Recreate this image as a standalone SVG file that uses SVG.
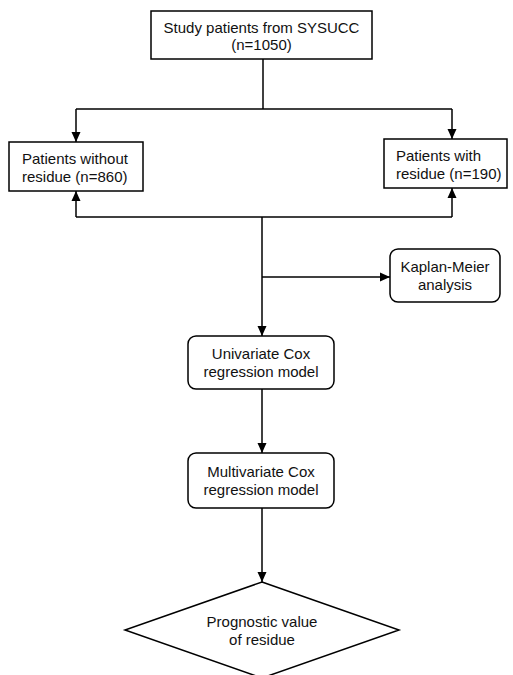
<svg xmlns="http://www.w3.org/2000/svg" width="513" height="675" viewBox="0 0 513 675">
<style>
.box{fill:#fff;stroke:#000;stroke-width:1.5}
.ln{fill:none;stroke:#000;stroke-width:1.5}
text{font-family:"Liberation Sans",Arial,sans-serif;font-size:15px;fill:#111}
.c{text-anchor:middle}
</style>
<defs>
<marker id="ah" markerUnits="userSpaceOnUse" markerWidth="10" markerHeight="10" viewBox="0 0 10 10" refX="10" refY="5" orient="auto">
<path d="M0,0.5 L10,5 L0,9.5 Z" fill="#000"/>
</marker>
</defs>
<rect width="513" height="675" fill="#fff"/>
<g id="connectors">
<path class="ln" d="M263,59 V109"/>
<path class="ln" d="M76,109 H452"/>
<path class="ln" d="M76,109 V142" marker-end="url(#ah)"/>
<path class="ln" d="M452,109 V139" marker-end="url(#ah)"/>
<path class="ln" d="M76,217 H452"/>
<path class="ln" d="M76,217 V191" marker-end="url(#ah)"/>
<path class="ln" d="M452,217 V188" marker-end="url(#ah)"/>
<path class="ln" d="M262,217 V336" marker-end="url(#ah)"/>
<path class="ln" d="M262,277 H390" marker-end="url(#ah)"/>
<path class="ln" d="M262,389 V453" marker-end="url(#ah)"/>
<path class="ln" d="M262,508 V582" marker-end="url(#ah)"/>
</g>
<g id="study">
<rect class="box" x="151" y="11" width="221" height="48"/>
<text class="c" x="261.5" y="33">Study patients from SYSUCC</text>
<text class="c" x="261.5" y="50">(n=1050)</text>
</g>
<g id="without">
<rect class="box" x="9" y="142" width="134" height="49"/>
<text x="22" y="164">Patients without</text>
<text x="22" y="182">residue (n=860)</text>
</g>
<g id="with">
<rect class="box" x="384" y="139" width="123" height="49"/>
<text x="396" y="161">Patients with</text>
<text x="396" y="179">residue (n=190)</text>
</g>
<g id="km">
<rect class="box" x="390" y="249" width="110" height="53" rx="8"/>
<text class="c" x="445" y="272">Kaplan-Meier</text>
<text class="c" x="445" y="290">analysis</text>
</g>
<g id="univariate">
<rect class="box" x="188" y="336" width="146" height="53" rx="8"/>
<text class="c" x="261" y="359">Univariate Cox</text>
<text class="c" x="261" y="377">regression model</text>
</g>
<g id="multivariate">
<rect class="box" x="188" y="453" width="146" height="55" rx="8"/>
<text class="c" x="261" y="477">Multivariate Cox</text>
<text class="c" x="261" y="495">regression model</text>
</g>
<g id="prognostic">
<path class="box" d="M262,582 L399,630 L262,678 L125,630 Z"/>
<text class="c" x="262" y="627">Prognostic value</text>
<text class="c" x="262" y="645">of residue</text>
</g>
</svg>
